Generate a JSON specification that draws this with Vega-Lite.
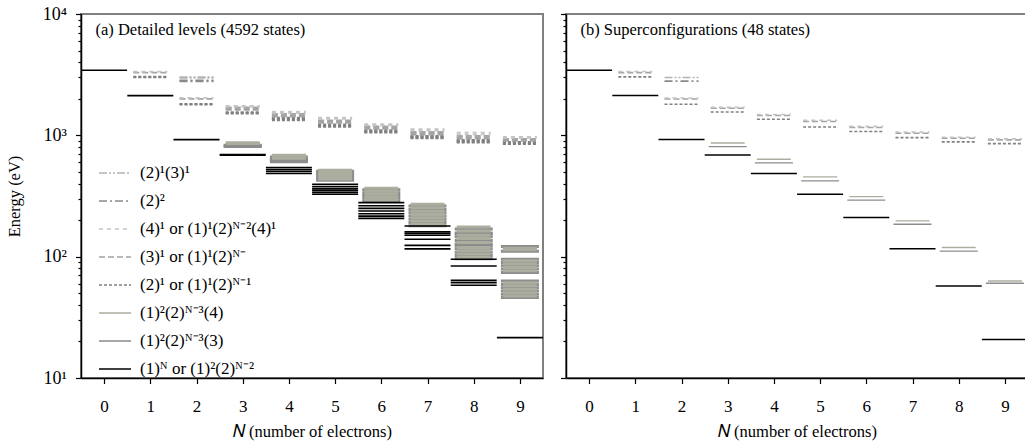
{
  "$schema": "https://vega.github.io/schema/vega-lite/v6.json",
  "autosize": {"type": "pad"},
  "padding": {"left": 5, "top": 4, "right": 0, "bottom": 0},
  "background": "white",
  "config": {
    "font": "Liberation Serif",
    "view": {"stroke": "#808080", "strokeWidth": 2},
    "axis": {"domainColor": "black", "domainWidth": 1.5, "tickColor": "black", "tickWidth": 1.2, "labelFont": "Liberation Serif", "labelColor": "black", "titleFont": "Liberation Serif", "titleFontWeight": "normal", "titleColor": "black", "grid": false, "labelOverlap": false, "labelFlush": false}
  },
  "datasets": {
    "a": [
      {"N":0,"E":3440,"t":"g"},
      {"N":1,"E":2125,"t":"g"},{"N":1,"E":3010,"t":"d2"},{"N":1,"E":3045,"t":"d2"},{"N":1,"E":3290,"t":"d3"},{"N":1,"E":3350,"t":"d4"},
      {"N":2,"E":922,"t":"g"},{"N":2,"E":1790,"t":"d2"},{"N":2,"E":1818,"t":"d2"},{"N":2,"E":1995,"t":"d3"},{"N":2,"E":2035,"t":"d4"},{"N":2,"E":2790,"t":"dd"},{"N":2,"E":2835,"t":"dd"},{"N":2,"E":2980,"t":"ddd"},{"N":2,"E":3015,"t":"ddd"},
      {"N":3,"E":685,"t":"g"},{"N":3,"E":695,"t":"g"},{"N":3,"E":808,"t":"s3"},{"N":3,"E":818,"t":"s3"},{"N":3,"E":828,"t":"s3"},{"N":3,"E":858,"t":"s4"},{"N":3,"E":870,"t":"s4"},{"N":3,"E":1510,"t":"d2"},{"N":3,"E":1532,"t":"d2"},{"N":3,"E":1556,"t":"d2"},{"N":3,"E":1620,"t":"d3"},{"N":3,"E":1660,"t":"d3"},{"N":3,"E":1700,"t":"d3"},{"N":3,"E":1725,"t":"d4"},{"N":3,"E":1747,"t":"d4"},
      {"N":4,"E":484,"t":"g"},{"N":4,"E":503,"t":"g"},{"N":4,"E":520,"t":"g"},{"N":4,"E":542,"t":"g"},{"N":4,"E":607,"t":"s3"},{"N":4,"E":620,"t":"s3"},{"N":4,"E":634,"t":"s3"},{"N":4,"E":662,"t":"s3"},{"N":4,"E":648,"t":"s4"},{"N":4,"E":676,"t":"s4"},{"N":4,"E":686,"t":"s4"},{"N":4,"E":1332,"t":"d2"},{"N":4,"E":1352,"t":"d2"},{"N":4,"E":1374,"t":"d2"},{"N":4,"E":1396,"t":"d2"},{"N":4,"E":1430,"t":"d3"},{"N":4,"E":1465,"t":"d3"},{"N":4,"E":1500,"t":"d3"},{"N":4,"E":1535,"t":"d4"},{"N":4,"E":1567,"t":"d4"},
      {"N":5,"E":327,"t":"g"},{"N":5,"E":338,"t":"g"},{"N":5,"E":350,"t":"g"},{"N":5,"E":362,"t":"g"},{"N":5,"E":378,"t":"g"},{"N":5,"E":395,"t":"g"},{"N":5,"E":427,"t":"s3"},{"N":5,"E":445,"t":"s3"},{"N":5,"E":465,"t":"s3"},{"N":5,"E":485,"t":"s3"},{"N":5,"E":505,"t":"s3"},{"N":5,"E":436,"t":"s4"},{"N":5,"E":455,"t":"s4"},{"N":5,"E":475,"t":"s4"},{"N":5,"E":495,"t":"s4"},{"N":5,"E":515,"t":"s4"},{"N":5,"E":1172,"t":"d2"},{"N":5,"E":1190,"t":"d2"},{"N":5,"E":1210,"t":"d2"},{"N":5,"E":1232,"t":"d2"},{"N":5,"E":1265,"t":"d3"},{"N":5,"E":1300,"t":"d3"},{"N":5,"E":1330,"t":"d3"},{"N":5,"E":1365,"t":"d4"},{"N":5,"E":1400,"t":"d4"},
      {"N":6,"E":207,"t":"g"},{"N":6,"E":216,"t":"g"},{"N":6,"E":226,"t":"g"},{"N":6,"E":238,"t":"g"},{"N":6,"E":250,"t":"g"},{"N":6,"E":263,"t":"g"},{"N":6,"E":279,"t":"g"},{"N":6,"E":288,"t":"s3"},{"N":6,"E":303,"t":"s3"},{"N":6,"E":319,"t":"s3"},{"N":6,"E":337,"t":"s3"},{"N":6,"E":356,"t":"s3"},{"N":6,"E":295,"t":"s4"},{"N":6,"E":311,"t":"s4"},{"N":6,"E":328,"t":"s4"},{"N":6,"E":346,"t":"s4"},{"N":6,"E":366,"t":"s4"},{"N":6,"E":1052,"t":"d2"},{"N":6,"E":1068,"t":"d2"},{"N":6,"E":1085,"t":"d2"},{"N":6,"E":1102,"t":"d2"},{"N":6,"E":1130,"t":"d3"},{"N":6,"E":1160,"t":"d3"},{"N":6,"E":1185,"t":"d3"},{"N":6,"E":1210,"t":"d4"},{"N":6,"E":1236,"t":"d4"},
      {"N":7,"E":116,"t":"g"},{"N":7,"E":124,"t":"g"},{"N":7,"E":139,"t":"g"},{"N":7,"E":150,"t":"g"},{"N":7,"E":155,"t":"g"},{"N":7,"E":160,"t":"g"},{"N":7,"E":179,"t":"g"},{"N":7,"E":180,"t":"s3"},{"N":7,"E":191,"t":"s3"},{"N":7,"E":203,"t":"s3"},{"N":7,"E":216,"t":"s3"},{"N":7,"E":230,"t":"s3"},{"N":7,"E":245,"t":"s3"},{"N":7,"E":261,"t":"s3"},{"N":7,"E":185,"t":"s4"},{"N":7,"E":197,"t":"s4"},{"N":7,"E":209,"t":"s4"},{"N":7,"E":223,"t":"s4"},{"N":7,"E":237,"t":"s4"},{"N":7,"E":253,"t":"s4"},{"N":7,"E":270,"t":"s4"},{"N":7,"E":946,"t":"d2"},{"N":7,"E":960,"t":"d2"},{"N":7,"E":975,"t":"d2"},{"N":7,"E":990,"t":"d2"},{"N":7,"E":1015,"t":"d3"},{"N":7,"E":1040,"t":"d3"},{"N":7,"E":1065,"t":"d3"},{"N":7,"E":1095,"t":"d4"},{"N":7,"E":1122,"t":"d4"},
      {"N":8,"E":58.1,"t":"g"},{"N":8,"E":61.1,"t":"g"},{"N":8,"E":63.8,"t":"g"},{"N":8,"E":83.8,"t":"g"},{"N":8,"E":95.2,"t":"g"},{"N":8,"E":96,"t":"s3"},{"N":8,"E":102,"t":"s3"},{"N":8,"E":109,"t":"s3"},{"N":8,"E":116,"t":"s3"},{"N":8,"E":123,"t":"s3"},{"N":8,"E":127,"t":"s3"},{"N":8,"E":136,"t":"s3"},{"N":8,"E":146,"t":"s3"},{"N":8,"E":154,"t":"s3"},{"N":8,"E":157,"t":"s3"},{"N":8,"E":169,"t":"s3"},{"N":8,"E":99,"t":"s4"},{"N":8,"E":105,"t":"s4"},{"N":8,"E":112,"t":"s4"},{"N":8,"E":119,"t":"s4"},{"N":8,"E":131,"t":"s4"},{"N":8,"E":141,"t":"s4"},{"N":8,"E":150,"t":"s4"},{"N":8,"E":163,"t":"s4"},{"N":8,"E":176,"t":"s4"},{"N":8,"E":871,"t":"d2"},{"N":8,"E":885,"t":"d2"},{"N":8,"E":900,"t":"d2"},{"N":8,"E":915,"t":"d2"},{"N":8,"E":940,"t":"d3"},{"N":8,"E":965,"t":"d3"},{"N":8,"E":990,"t":"d3"},{"N":8,"E":1020,"t":"d4"},{"N":8,"E":1052,"t":"d4"},
      {"N":9,"E":21.5,"t":"g"},{"N":9,"E":46,"t":"s3"},{"N":9,"E":49,"t":"s3"},{"N":9,"E":52,"t":"s3"},{"N":9,"E":55.5,"t":"s3"},{"N":9,"E":59,"t":"s3"},{"N":9,"E":63,"t":"s3"},{"N":9,"E":74,"t":"s3"},{"N":9,"E":79,"t":"s3"},{"N":9,"E":84,"t":"s3"},{"N":9,"E":89.5,"t":"s3"},{"N":9,"E":95,"t":"s3"},{"N":9,"E":111,"t":"s3"},{"N":9,"E":121,"t":"s3"},{"N":9,"E":47.5,"t":"s4"},{"N":9,"E":50.5,"t":"s4"},{"N":9,"E":54,"t":"s4"},{"N":9,"E":57.5,"t":"s4"},{"N":9,"E":61,"t":"s4"},{"N":9,"E":76.5,"t":"s4"},{"N":9,"E":81.5,"t":"s4"},{"N":9,"E":87,"t":"s4"},{"N":9,"E":92.5,"t":"s4"},{"N":9,"E":114,"t":"s4"},{"N":9,"E":117.5,"t":"s4"},{"N":9,"E":845,"t":"d2"},{"N":9,"E":858,"t":"d2"},{"N":9,"E":870,"t":"d2"},{"N":9,"E":883,"t":"d2"},{"N":9,"E":900,"t":"d3"},{"N":9,"E":920,"t":"d3"},{"N":9,"E":935,"t":"d3"},{"N":9,"E":952,"t":"d4"},{"N":9,"E":970,"t":"d4"}
    ],
    "b": [
      {"N":0,"E":3440,"t":"g"},
      {"N":1,"E":2125,"t":"g"},{"N":1,"E":3033,"t":"d2"},{"N":1,"E":3290,"t":"d3"},{"N":1,"E":3360,"t":"d4"},
      {"N":2,"E":922,"t":"g"},{"N":2,"E":1803,"t":"d2"},{"N":2,"E":1990,"t":"d3"},{"N":2,"E":2030,"t":"d4"},{"N":2,"E":2795,"t":"dd"},{"N":2,"E":2993,"t":"ddd"},
      {"N":3,"E":689,"t":"g"},{"N":3,"E":807,"t":"s3"},{"N":3,"E":865,"t":"s4"},{"N":3,"E":1559,"t":"d2"},{"N":3,"E":1670,"t":"d3"},{"N":3,"E":1700,"t":"d4"},
      {"N":4,"E":485,"t":"g"},{"N":4,"E":592,"t":"s3"},{"N":4,"E":635,"t":"s4"},{"N":4,"E":1358,"t":"d2"},{"N":4,"E":1455,"t":"d3"},{"N":4,"E":1485,"t":"d4"},
      {"N":5,"E":327,"t":"g"},{"N":5,"E":421,"t":"s3"},{"N":5,"E":454,"t":"s4"},{"N":5,"E":1172,"t":"d2"},{"N":5,"E":1300,"t":"d3"},{"N":5,"E":1330,"t":"d4"},
      {"N":6,"E":210,"t":"g"},{"N":6,"E":292,"t":"s3"},{"N":6,"E":312,"t":"s4"},{"N":6,"E":1074,"t":"d2"},{"N":6,"E":1160,"t":"d3"},{"N":6,"E":1185,"t":"d4"},
      {"N":7,"E":116,"t":"g"},{"N":7,"E":185,"t":"s3"},{"N":7,"E":197,"t":"s4"},{"N":7,"E":957,"t":"d2"},{"N":7,"E":1040,"t":"d3"},{"N":7,"E":1062,"t":"d4"},
      {"N":8,"E":57.3,"t":"g"},{"N":8,"E":111,"t":"s3"},{"N":8,"E":119,"t":"s4"},{"N":8,"E":883,"t":"d2"},{"N":8,"E":945,"t":"d3"},{"N":8,"E":965,"t":"d4"},
      {"N":9,"E":20.8,"t":"g"},{"N":9,"E":60.4,"t":"s3"},{"N":9,"E":63,"t":"s4"},{"N":9,"E":855,"t":"d2"},{"N":9,"E":918,"t":"d3"},{"N":9,"E":935,"t":"d4"}
    ]
  },
  "resolve": {"scale": {"color": "independent", "strokeDash": "independent"}, "legend": {"color": "independent", "strokeDash": "independent"}},
  "spacing": 23,
  "bounds": "flush",
  "hconcat": [
    {
      "width": 462,
      "height": 364,
      "layer": [
        {
          "data": {"name": "a"},
          "encoding": {
            "x": {"field": "N", "type": "quantitative", "title": "𝑁  (number of electrons)", "scale": {"domain": [-0.5, 9.5], "nice": false, "zero": false},
                  "axis": {"values": [0,0.5,1,1.5,2,2.5,3,3.5,4,4.5,5,5.5,6,6.5,7,7.5,8,8.5,9], "labelExpr": "datum.value % 1 == 0 ? '' + datum.value : ''", "tickSize": {"condition": {"test": "datum.value % 1 != 0", "value": 3}, "value": 5.5}, "labelFontSize": 17, "labelPadding": 15, "titleFontSize": 16.5, "titlePadding": 9}},
            "x2": {"field": "N"},
            "y": {"field": "E", "type": "quantitative", "title": "Energy (eV)", "scale": {"type": "log", "domain": [10, 10000], "nice": false},
                  "axis": {"values": [10,20,30,40,50,60,70,80,90,100,200,300,400,500,600,700,800,900,1000,2000,3000,4000,5000,6000,7000,8000,9000,10000], "labelExpr": "datum.value == 10 ? '10¹' : datum.value == 100 ? '10²' : datum.value == 1000 ? '10³' : datum.value == 10000 ? '10⁴' : ''", "tickSize": {"condition": {"test": "indexof([10,100,1000,10000], datum.value) >= 0", "value": 5.5}, "value": 3}, "labelFontSize": 18, "labelPadding": 9, "titleFontSize": 16.5, "titlePadding": 20}},
            "color": {"field": "t", "type": "nominal",
                      "scale": {"domain": ["ddd","dd","d4","d3","d2","s4","s3","g"], "range": ["#b4b4b4","#8a8a8a","#c4c4c4","#a4a4a4","#808080","#abad9f","#8c8c8c","#000000"]},
                      "legend": {"title": null, "orient": "none", "legendX": 17, "legendY": 142, "padding": 0, "symbolType": "stroke", "symbolSize": 1024, "symbolStrokeWidth": 1.5, "labelFont": "Liberation Serif", "labelFontSize": 17, "labelColor": "black", "labelLimit": 300, "labelOffset": 8, "rowPadding": 3, "labelExpr": "{'ddd':'(2)¹(3)¹','dd':'(2)²','d4':'(4)¹ or (1)¹(2)ᴺ⁻²(4)¹','d3':'(3)¹ or (1)¹(2)ᴺ⁻','d2':'(2)¹ or (1)¹(2)ᴺ⁻¹','s4':'(1)²(2)ᴺ⁻³(4)','s3':'(1)²(2)ᴺ⁻³(3)','g':'(1)ᴺ or (1)²(2)ᴺ⁻²'}[datum.label]"}},
            "strokeDash": {"field": "t", "type": "nominal",
                      "scale": {"domain": ["ddd","dd","d4","d3","d2","s4","s3","g"], "range": [[8,2,2,2,2,2],[8,3,2,3],[4,4],[6,3],[3,2],[1,0],[1,0],[1,0]]},
                      "legend": {"title": null, "orient": "none", "legendX": 17, "legendY": 142, "padding": 0, "symbolType": "stroke", "symbolSize": 1024, "symbolStrokeWidth": 1.5, "labelFont": "Liberation Serif", "labelFontSize": 17, "labelColor": "black", "labelLimit": 300, "labelOffset": 8, "rowPadding": 3, "labelExpr": "{'ddd':'(2)¹(3)¹','dd':'(2)²','d4':'(4)¹ or (1)¹(2)ᴺ⁻²(4)¹','d3':'(3)¹ or (1)¹(2)ᴺ⁻','d2':'(2)¹ or (1)¹(2)ᴺ⁻¹','s4':'(1)²(2)ᴺ⁻³(4)','s3':'(1)²(2)ᴺ⁻³(3)','g':'(1)ᴺ or (1)²(2)ᴺ⁻²'}[datum.label]"}}
          },
          "layer": [
            {"transform": [{"filter": "datum.t == 's3'"}], "mark": {"type": "rule", "xOffset": -19, "x2Offset": 19, "strokeWidth": 3, "strokeCap": "butt"}},
            {"transform": [{"filter": "datum.t == 's4'"}], "mark": {"type": "rule", "xOffset": -17, "x2Offset": 17, "strokeWidth": 3, "strokeCap": "butt"}},
            {"transform": [{"filter": "datum.t == 'd2' || datum.t == 'd3' || datum.t == 'd4' || datum.t == 'dd' || datum.t == 'ddd'"}], "mark": {"type": "rule", "xOffset": -17, "x2Offset": 17, "strokeWidth": 1.8, "strokeCap": "butt"}},
            {"transform": [{"filter": "datum.t == 'g'"}], "mark": {"type": "rule", "xOffset": -23, "x2Offset": 23, "strokeWidth": 1.6, "strokeCap": "butt"}}
          ]
        },
        {
          "data": {"values": [{}]},
          "mark": {"type": "text", "align": "left", "baseline": "alphabetic", "fontSize": 16.5, "font": "Liberation Serif", "color": "black"},
          "encoding": {
            "x": {"datum": -0.186, "type": "quantitative", "title": "𝑁  (number of electrons)"},
            "y": {"datum": 6650, "type": "quantitative", "title": "Energy (eV)"},
            "text": {"value": "(a) Detailed levels (4592 states)"}
          }
        }
      ]
    },
    {
      "width": 462,
      "height": 364,
      "layer": [
        {
          "data": {"name": "b"},
          "encoding": {
            "x": {"field": "N", "type": "quantitative", "title": "𝑁  (number of electrons)", "scale": {"domain": [-0.5, 9.5], "nice": false, "zero": false},
                  "axis": {"values": [0,0.5,1,1.5,2,2.5,3,3.5,4,4.5,5,5.5,6,6.5,7,7.5,8,8.5,9], "labelExpr": "datum.value % 1 == 0 ? '' + datum.value : ''", "tickSize": {"condition": {"test": "datum.value % 1 != 0", "value": 3}, "value": 5.5}, "labelFontSize": 17, "labelPadding": 15, "titleFontSize": 16.5, "titlePadding": 9}},
            "x2": {"field": "N"},
            "y": {"field": "E", "type": "quantitative", "title": null, "scale": {"type": "log", "domain": [10, 10000], "nice": false},
                  "axis": {"values": [10,20,30,40,50,60,70,80,90,100,200,300,400,500,600,700,800,900,1000,2000,3000,4000,5000,6000,7000,8000,9000,10000], "labels": false, "tickSize": {"condition": {"test": "indexof([10,100,1000,10000], datum.value) >= 0", "value": 5.5}, "value": 3}, "title": null}},
            "color": {"field": "t", "type": "nominal",
                      "scale": {"domain": ["ddd","dd","d4","d3","d2","s4","s3","g"], "range": ["#b4b4b4","#8a8a8a","#c4c4c4","#a4a4a4","#808080","#abad9f","#8c8c8c","#000000"]},
                      "legend": null},
            "strokeDash": {"field": "t", "type": "nominal",
                      "scale": {"domain": ["ddd","dd","d4","d3","d2","s4","s3","g"], "range": [[8,2,2,2,2,2],[8,3,2,3],[4,4],[6,3],[3,2],[1,0],[1,0],[1,0]]},
                      "legend": null}
          },
          "layer": [
            {"transform": [{"filter": "datum.t == 's3'"}], "mark": {"type": "rule", "xOffset": -19, "x2Offset": 19, "strokeWidth": 1.3, "strokeCap": "butt"}},
            {"transform": [{"filter": "datum.t == 's4'"}], "mark": {"type": "rule", "xOffset": -17, "x2Offset": 17, "strokeWidth": 1.3, "strokeCap": "butt"}},
            {"transform": [{"filter": "datum.t == 'd2' || datum.t == 'd3' || datum.t == 'd4' || datum.t == 'dd' || datum.t == 'ddd'"}], "mark": {"type": "rule", "xOffset": -17, "x2Offset": 17, "strokeWidth": 1.6, "strokeCap": "butt"}},
            {"transform": [{"filter": "datum.t == 'g'"}], "mark": {"type": "rule", "xOffset": -23, "x2Offset": 23, "strokeWidth": 1.5, "strokeCap": "butt"}}
          ]
        },
        {
          "data": {"values": [{}]},
          "mark": {"type": "text", "align": "left", "baseline": "alphabetic", "fontSize": 16.5, "font": "Liberation Serif", "color": "black"},
          "encoding": {
            "x": {"datum": -0.186, "type": "quantitative", "title": "𝑁  (number of electrons)"},
            "y": {"datum": 6650, "type": "quantitative", "title": null},
            "text": {"value": "(b) Superconfigurations (48 states)"}
          }
        }
      ]
    }
  ]
}
